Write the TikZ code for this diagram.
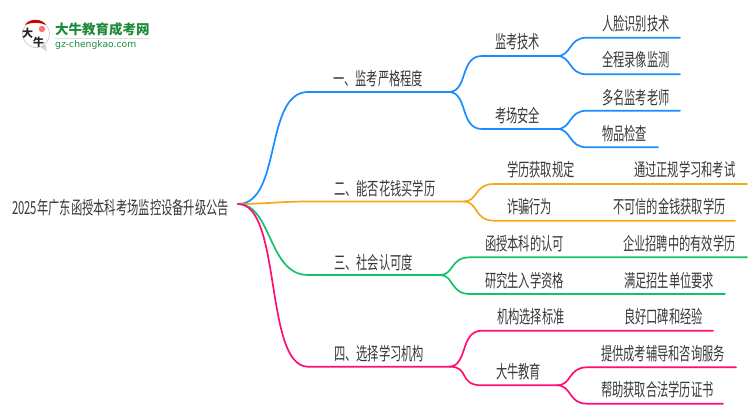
\documentclass[tikz,border=0pt]{standalone}
\usepackage{fontspec}
\newfontfamily\cjk{Noto Sans CJK SC}
\newfontfamily\latn{DejaVu Sans}
\newcommand\sq[2][.625]{\scalebox{#1}[1]{#2}}
\definecolor{cblue}{HTML}{1A8CFF}
\definecolor{corange}{HTML}{F5A81C}
\definecolor{cgreen}{HTML}{14C26B}
\definecolor{cpink}{HTML}{FF0F73}
\definecolor{lgreen}{HTML}{1E8A3C}
\tikzset{
  lab/.style={anchor=west,inner sep=0pt,yshift=-.8pt,text=black!78,font=\cjk\fontsize{18}{18}\selectfont},
  logoch/.style={inner sep=0pt,font=\cjk\fontsize{11}{11}\selectfont\bfseries,text=black!85},
  wire/.style={line width=1.7pt,line cap=round,draw=#1}
}
\begin{document}
\begin{tikzpicture}[x=1pt,y=-1pt]
\useasboundingbox (0,0) rectangle (750,410);
\fill[white] (0,0) rectangle (750,410);
% logo
\fill[black!18] (47,51.5) -- (39,46) -- (45,43) -- cycle;
\draw[black!18,fill=white,line width=.8pt] (36,34) circle (13.5);
\fill[red!80!black] (25,25) .. controls (29,18) and (42,18) .. (46,25) .. controls (40,22) and (31,22) .. (25,25) -- cycle;
\fill[red!55!white] (42,29) circle (3.2);
\node[logoch] (lgA) at (27.5,33) {大};
\node[logoch] (lgB) at (38.5,42.5) {牛};
\node[anchor=west,inner sep=0pt,font=\cjk\fontsize{13.5}{13.5}\selectfont\bfseries,text=lgreen] (lgT) at (55,29.5) {大牛教育成考网};
\draw[black!12,line width=.8pt] (55,38.7) -- (150,38.7);
\node[anchor=west,inner sep=0pt,font=\latn\fontsize{9.2}{9.2}\selectfont,text=lgreen] (lgU) at (55,44.7) {\sq[1]{gz-chengkao.com}};
% coordinates
\coordinate (root) at (238,204);
\coordinate (a) at (308,92); \coordinate (ae) at (450,92);
\coordinate (a1) at (482,56); \coordinate (a1e) at (557,56);
\coordinate (a2) at (482,129); \coordinate (a2e) at (557,129);
\coordinate (a11) at (587,37.7); \coordinate (a11e) at (680,37.7);
\coordinate (a12) at (587,74.3); \coordinate (a12e) at (680,74.3);
\coordinate (a21) at (587,110.7); \coordinate (a21e) at (680,110.7);
\coordinate (a22) at (587,147.3); \coordinate (a22e) at (658,147.3);
\coordinate (b) at (308,201.5); \coordinate (be) at (464,201.5);
\coordinate (b1) at (494,184); \coordinate (b1e) at (747,184);
\coordinate (b2) at (494,220.7); \coordinate (b2e) at (735,220.7);
\coordinate (c) at (308,275); \coordinate (ce) at (440,275);
\coordinate (c1) at (470,257.3); \coordinate (c1e) at (747,257.3);
\coordinate (c2) at (470,294); \coordinate (c2e) at (725,294);
\coordinate (d) at (308,366.7); \coordinate (de) at (450,366.7);
\coordinate (d1) at (482,330.7); \coordinate (d1e) at (713,330.7);
\coordinate (d2) at (482,385.3); \coordinate (d2e) at (557,385.3);
\coordinate (d21) at (587,367.3); \coordinate (d21e) at (736,367.3);
\coordinate (d22) at (587,403.7); \coordinate (d22e) at (723,403.7);
% blue
\draw[wire=cblue] (root) .. controls (282,204) and (264,92) .. (a) -- (ae);
\draw[wire=cblue] (ae) .. controls (468,90) and (460,56) .. (a1) -- (a1e);
\draw[wire=cblue] (ae) .. controls (468,94) and (460,129) .. (a2) -- (a2e);
\draw[wire=cblue] (a1e) .. controls (572,56) and (568,37.7) .. (a11) -- (a11e);
\draw[wire=cblue] (a1e) .. controls (572,56) and (568,74.3) .. (a12) -- (a12e);
\draw[wire=cblue] (a2e) .. controls (572,129) and (568,110.7) .. (a21) -- (a21e);
\draw[wire=cblue] (a2e) .. controls (572,129) and (568,147.3) .. (a22) -- (a22e);
% orange
\draw[wire=corange] (root) .. controls (265,204) and (280,201.5) .. (b) -- (be);
\draw[wire=corange] (be) .. controls (478,201.5) and (474,184) .. (b1) -- (b1e);
\draw[wire=corange] (be) .. controls (478,201.5) and (474,220.7) .. (b2) -- (b2e);
% green
\draw[wire=cgreen] (root) .. controls (272,204) and (268,275) .. (c) -- (ce);
\draw[wire=cgreen] (ce) .. controls (454,275) and (450,257.3) .. (c1) -- (c1e);
\draw[wire=cgreen] (ce) .. controls (454,275) and (450,294) .. (c2) -- (c2e);
% pink
\draw[wire=cpink] (root) .. controls (282,204) and (264,366.7) .. (d) -- (de);
\draw[wire=cpink] (de) .. controls (468,364.7) and (460,330.7) .. (d1) -- (d1e);
\draw[wire=cpink] (de) .. controls (470,366.7) and (458,385.3) .. (d2) -- (d2e);
\draw[wire=cpink] (d2e) .. controls (572,385.3) and (568,367.3) .. (d21) -- (d21e);
\draw[wire=cpink] (d2e) .. controls (572,385.3) and (568,403.7) .. (d22) -- (d22e);
% labels
\node[lab] (troot) at (12,207) {\sq[.627]{2025年广东函授本科考场监控设备升级公告}};
\node[lab] (ta) at (333,78) {\sq{一、监考严格程度}};
\node[lab] (ta1) at (495,41) {\sq{监考技术}};
\node[lab] (ta2) at (495,115) {\sq{考场安全}};
\node[lab] (ta11) at (602,23) {\sq{人脸识别技术}};
\node[lab] (ta12) at (602,59) {\sq{全程录像监测}};
\node[lab] (ta21) at (602,97) {\sq{多名监考老师}};
\node[lab] (ta22) at (602,133) {\sq{物品检查}};
\node[lab] (tb) at (334,188) {\sq{二、能否花钱买学历}};
\node[lab] (tb1) at (507,169) {\sq{学历获取规定}};
\node[lab] (tb1x) at (634,169) {\sq{通过正规学习和考试}};
\node[lab] (tb2) at (507,206) {\sq{诈骗行为}};
\node[lab] (tb2x) at (613,206) {\sq{不可信的金钱获取学历}};
\node[lab] (tc) at (334,262) {\sq{三、社会认可度}};
\node[lab] (tc1) at (485,243) {\sq{函授本科的认可}};
\node[lab] (tc1x) at (623,243) {\sq{企业招聘中的有效学历}};
\node[lab] (tc2) at (485,280) {\sq{研究生入学资格}};
\node[lab] (tc2x) at (624,280) {\sq{满足招生单位要求}};
\node[lab] (td) at (334,353) {\sq{四、选择学习机构}};
\node[lab] (td1) at (497,316) {\sq{机构选择标准}};
\node[lab] (td1x) at (624,316) {\sq{良好口碑和经验}};
\node[lab] (td2) at (496,371) {\sq{大牛教育}};
\node[lab] (td21) at (601,353) {\sq{提供成考辅导和咨询服务}};
\node[lab] (td22) at (601,389) {\sq{帮助获取合法学历证书}};
\end{tikzpicture}
\end{document}
